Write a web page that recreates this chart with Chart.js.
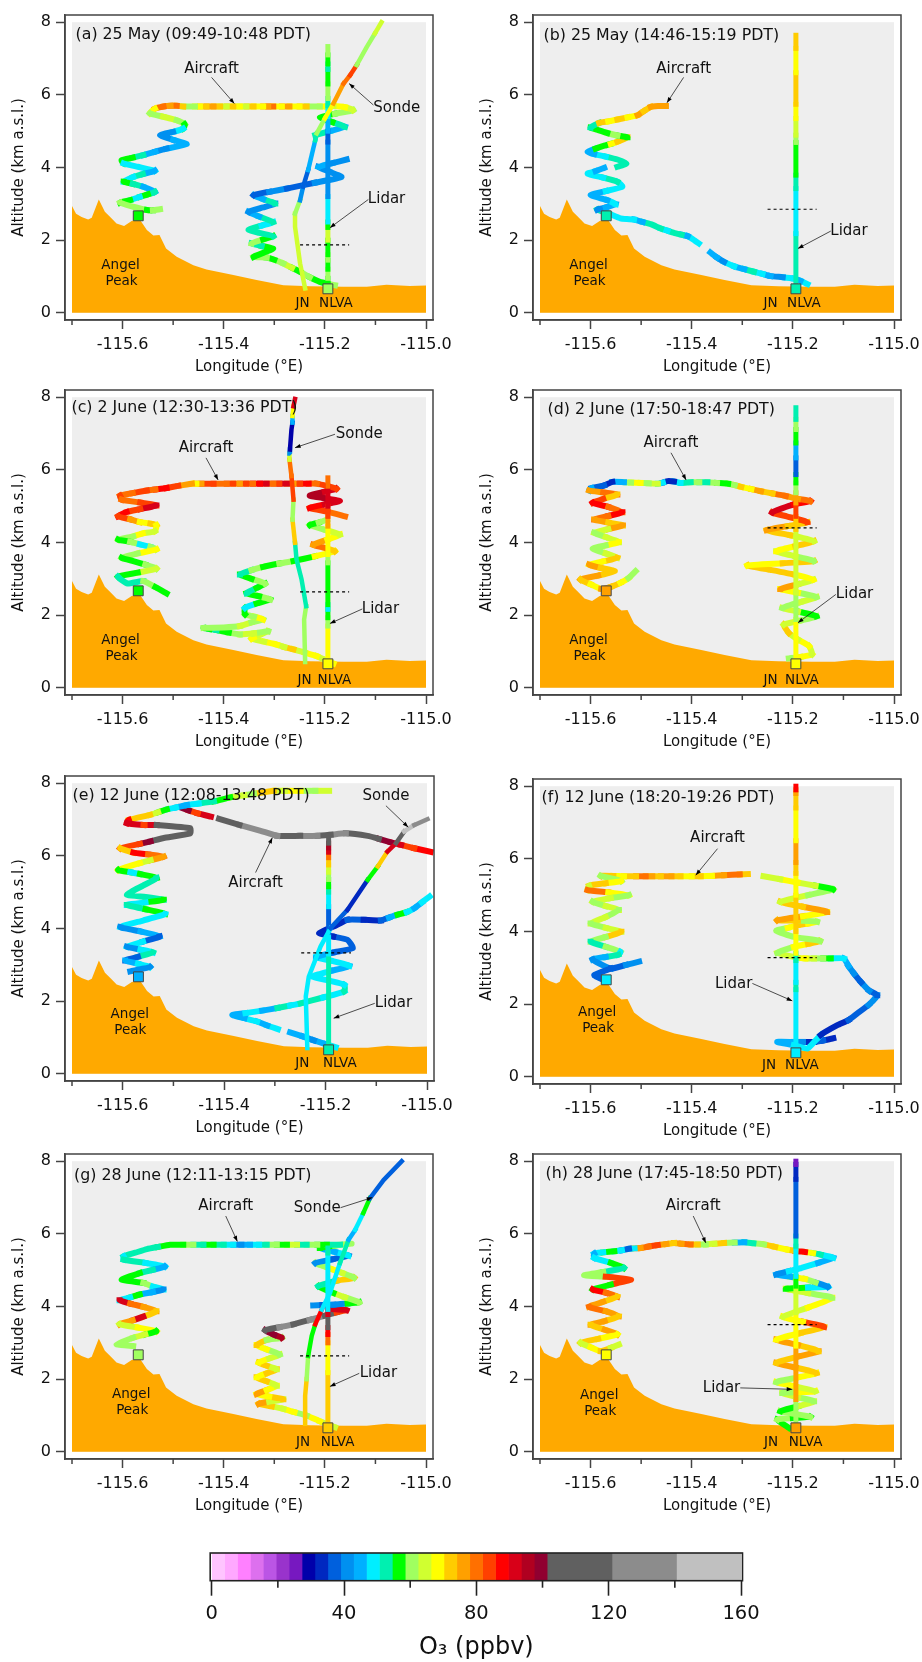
<!DOCTYPE html>
<html>
<head>
<meta charset="utf-8">
<title>O3 curtains</title>
<script src="https://cdn.jsdelivr.net/npm/chart.js@4/dist/chart.umd.min.js"></script>
<style>
  body { margin: 0; background: #fff; }
  #page { position: relative; width: 922px; height: 1662px; overflow: hidden; }
  canvas { position: absolute; }
</style>
</head>
<body>
<div id="page"></div>
<script>
// axis ticks
const lonTicks = [-115.7, -115.6, -115.5, -115.4, -115.3, -115.2, -115.1, -115.0];
const lonLabels = ['', '-115.6', '', '-115.4', '', '-115.2', '', '-115.0'];
const altTicks = [0, 2, 4, 6, 8];
const o3Ticks = [0, 20, 40, 60, 80, 100, 120, 140, 160];
const o3TickLabels = ['0', '', '40', '', '80', '', '120', '', '160'];

// colour bar
const o3Edges = [0, 3.9, 7.8, 11.7, 15.6, 19.5, 23.4, 27.3, 31.2, 35.1, 39, 42.9, 46.8, 50.7, 54.6, 58.5, 62.4, 66.3, 70.2, 74.1, 78, 81.9, 85.8, 89.7, 93.6, 97.5, 101.4, 121, 140.5, 160];
const o3Colors = ['#FFC4FF', '#FFA8FF', '#FF80FF', '#DD70EE', '#BB55E5', '#9933CC', '#7718C0', '#0000AA', '#0028C0', '#0060DD', '#0090F0', '#00B0FF', '#00EEFF', '#00F0B0', '#00FF00', '#A0FF60', '#D0FF30', '#FFFF00', '#FFCC00', '#FFA000', '#FF7000', '#FF4000', '#FF0000', '#D80018', '#B00020', '#900030', '#606060', '#8C8C8C', '#C0C0C0'];

// terrain along the transect
const terrainLon = [-115.7, -115.692, -115.681, -115.668, -115.661, -115.647, -115.635, -115.622, -115.612, -115.597, -115.582, -115.566, -115.552, -115.539, -115.527, -115.514, -115.493, -115.46, -115.434, -115.381, -115.335, -115.282, -115.229, -115.163, -115.117, -115.078, -115.032, -115.0];
const terrainAlt = [2.94, 2.73, 2.64, 2.57, 2.62, 3.12, 2.78, 2.6, 2.46, 2.39, 2.53, 2.57, 2.28, 2.13, 2.14, 1.77, 1.54, 1.31, 1.19, 1.04, 0.9, 0.76, 0.73, 0.72, 0.72, 0.77, 0.74, 0.75];

// Angel Peak and NLVA sites
const siteLon = [-115.569, -115.194];
const siteAlt = [2.67, 0.66];
const lidarLon = -115.194;

const gap = [null, null, null];

// (a) rows are lon, alt, O3
const titleA = ['(a) 25 May (09:49-10:48 PDT)', -115.693, 7.66];
const aircraftA = [[-115.18,0.76,62],[-115.195,0.8,56],[-115.21,0.85,56],[-115.23,0.98,62],[-115.249,1.13,58],[-115.265,1.24,65],[-115.282,1.36,62],[-115.3,1.46,58],[-115.315,1.52,60],[-115.341,1.54,56],[-115.32,1.66,58],[-115.302,1.77,56],[-115.325,1.84,54],[-115.345,1.91,60],[-115.322,2.02,58],[-115.302,2.11,54],[-115.33,2.2,52],[-115.351,2.29,54],[-115.325,2.4,50],[-115.302,2.5,54],[-115.33,2.65,44],[-115.351,2.78,40],[-115.322,2.9,42],[-115.298,3.01,52],[-115.322,3.13,44],[-115.341,3.24,38],[-115.31,3.33,40],[-115.275,3.42,38],[-115.22,3.58,42],[-115.167,3.74,42],[-115.19,3.88,40],[-115.213,4.02,44],[-115.185,4.12,40],[-115.157,4.22,44],gap,
  [-115.219,4.89,52],[-115.19,5,44],[-115.16,5.12,54],[-115.185,5.25,56],[-115.21,5.38,58],[-115.18,5.48,62],[-115.144,5.58,65],[-115.16,5.66,69],[-115.183,5.69,65],[-115.196,5.68,69],[-115.21,5.68,62],[-115.236,5.68,73],[-115.25,5.68,69],[-115.27,5.68,77],[-115.285,5.68,69],[-115.302,5.68,81],[-115.312,5.68,77],[-115.322,5.68,69],[-115.341,5.68,73],[-115.355,5.68,65],[-115.368,5.68,69],[-115.381,5.68,73],[-115.394,5.68,65],[-115.407,5.68,71],[-115.42,5.68,77],[-115.434,5.68,71],[-115.447,5.68,69],[-115.457,5.68,62],[-115.467,5.68,60],[-115.48,5.68,73],[-115.493,5.7,81],[-115.505,5.7,77],[-115.519,5.68,81],[-115.536,5.62,69],[-115.546,5.49,60],[-115.52,5.4,65],[-115.493,5.3,62],[-115.477,5.19,58],[-115.48,5.07,50],[-115.5,4.98,42],[-115.526,4.89,40],[-115.5,4.76,44],[-115.473,4.64,44],[-115.513,4.52,42],[-115.535,4.44,46],[-115.559,4.34,54],[-115.58,4.27,58],[-115.602,4.2,58],[-115.598,4.11,50],[-115.57,4.02,48],[-115.536,3.91,46],[-115.56,3.82,54],[-115.579,3.74,50],[-115.598,3.61,58],[-115.58,3.55,52],[-115.559,3.47,44],[-115.536,3.33,54],[-115.55,3.26,58],[-115.566,3.19,50],[-115.585,3.1,58],[-115.605,3.03,60],[-115.579,2.92,62],[-115.552,2.83,58],[-115.54,2.82,62],[-115.526,2.85,40]];
const lidarAltA = [0.66, 0.95, 1.2, 1.45, 1.6, 2.0, 2.35, 2.5, 3.2, 4.7, 5.0, 5.4, 5.7, 5.9, 6.3, 6.7, 6.85, 7.1, 7.33];
const lidarO3A = [58, 62, 58, 62, 58, 65, 58, 50, 42, 38, 44, 50, 54, 62, 58, 54, 58, 62, 62];
const sondeA = [[-115.239,0.67,65],[-115.249,1.36,65],[-115.259,2.37,65],[-115.259,2.73,60],[-115.249,3.1,40],[-115.243,3.47,38],[-115.233,3.93,44],[-115.219,4.75,54],[-115.216,4.94,62],[-115.2,5.35,69],[-115.183,5.76,77],[-115.163,6.31,81],[-115.15,6.54,85],[-115.137,6.82,62],[-115.117,7.32,60],[-115.101,7.69,65],[-115.088,8,60]];
const dashA = [-115.249, -115.152, 1.87];
const siteO3A = [58, 62];
const labelsA = [['Aircraft',-115.424,6.72],['Sonde',-115.058,5.64],['Lidar',-115.078,3.12],['Angel',-115.604,1.31],['Peak',-115.602,0.87],['JN',-115.244,0.25],['NLVA',-115.178,0.25]];
const arrowsA = [[-115.424,6.48,-115.379,5.76],[-115.104,5.72,-115.152,6.31],[-115.114,3.12,-115.19,2.34]];

// (b)
const titleB = ['(b) 25 May (14:46-15:19 PDT)', -115.693, 7.62];
const aircraftB = [[-115.171,0.79,50],[-115.185,0.88,46],[-115.198,0.94,48],[-115.22,0.98,40],[-115.244,1.01,44],[-115.26,1.07,50],[-115.277,1.13,54],[-115.296,1.2,46],[-115.316,1.28,48],[-115.336,1.4,40],[-115.35,1.52,44],[-115.363,1.66,38],gap,
  [-115.386,1.91,48],[-115.397,2.02,48],[-115.408,2.11,46],[-115.42,2.15,54],[-115.435,2.2,54],[-115.448,2.26,48],[-115.461,2.32,52],[-115.481,2.44,54],[-115.497,2.5,46],[-115.514,2.57,48],[-115.528,2.58,50],[-115.541,2.6,48],[-115.564,2.73,54],[-115.587,2.84,42],[-115.57,2.9,46],[-115.55,2.99,48],[-115.567,3.1,44],[-115.6,3.24,44],[-115.57,3.35,48],[-115.537,3.47,48],[-115.547,3.61,54],[-115.575,3.72,50],[-115.606,3.83,50],[-115.59,3.9,44],[-115.573,3.99,48],gap,
  [-115.547,4.02,52],[-115.529,4.11,54],[-115.547,4.22,54],[-115.57,4.3,50],[-115.593,4.37,44],[-115.606,4.43,44],[-115.59,4.52,56],[-115.573,4.6,58],[-115.56,4.65,69],[-115.547,4.71,73],[-115.527,4.83,58],[-115.547,4.88,62],[-115.567,4.95,58],[-115.585,5.03,58],[-115.6,5.1,54],[-115.583,5.23,73],[-115.565,5.27,69],[-115.547,5.32,73],[-115.527,5.38,69],[-115.507,5.44,77],[-115.495,5.55,73],[-115.481,5.67,77],[-115.467,5.69,77],[-115.451,5.69,81]];
const lidarAltB = [0.7, 2.18, 3.42, 3.79, 4.69, 4.89, 5.35, 5.74, 6.61, 7.28, 7.64];
const lidarO3B = [52, 48, 52, 58, 62, 65, 69, 73, 69, 73, 73];
const dashB = [-115.25, -115.153, 2.85];
const siteO3B = [52, 52];
const labelsB = [['Aircraft',-115.416,6.72],['Lidar',-115.089,2.25],['Angel',-115.604,1.31],['Peak',-115.602,0.87],['JN',-115.244,0.25],['NLVA',-115.178,0.25]];
const arrowsB = [[-115.416,6.48,-115.449,5.78],[-115.125,2.25,-115.19,1.77]];

// (c)
const titleC = ['(c) 2 June (12:30-13:36 PDT)', -115.701, 7.71];
const aircraftC = [[-115.183,0.67,69],[-115.2,0.77,65],[-115.216,0.87,69],[-115.24,0.97,65],[-115.262,1.06,73],[-115.28,1.12,65],[-115.295,1.19,69],[-115.32,1.27,65],[-115.345,1.35,69],[-115.33,1.45,65],[-115.312,1.56,62],[-115.34,1.5,65],[-115.368,1.47,62],[-115.39,1.52,58],[-115.414,1.59,54],[-115.428,1.62,58],[-115.44,1.65,62],[-115.4,1.66,60],[-115.368,1.7,65],[-115.345,1.8,60],[-115.322,1.88,69],[-115.34,1.96,60],[-115.358,2.02,56],[-115.358,2.2,50],[-115.335,2.32,56],[-115.308,2.43,62],[-115.33,2.52,56],[-115.355,2.6,54],[-115.335,2.75,56],[-115.318,2.87,62],[-115.345,3,58],[-115.368,3.12,54],[-115.345,3.24,62],[-115.322,3.33,58],[-115.29,3.42,62],[-115.262,3.49,58],[-115.22,3.62,69],[-115.18,3.76,73],[-115.2,3.85,79],[-115.223,3.94,77],[-115.195,4.08,69],[-115.17,4.22,65],[-115.2,4.35,60],[-115.23,4.48,58],[-115.212,4.55,62],[-115.196,4.63,58],gap,
  [-115.16,4.72,81],[-115.195,4.85,85],[-115.23,4.95,87],[-115.2,5.05,90],[-115.17,5.14,92],[-115.2,5.22,96],[-115.23,5.29,94],[-115.2,5.4,90],[-115.177,5.48,85],[-115.216,5.62,81],[-115.232,5.62,87],[-115.249,5.62,85],[-115.262,5.62,77],[-115.275,5.62,90],[-115.29,5.62,85],[-115.302,5.62,81],[-115.315,5.62,92],[-115.328,5.62,87],[-115.342,5.62,81],[-115.355,5.62,85],[-115.368,5.62,77],[-115.381,5.62,85],[-115.394,5.62,81],[-115.407,5.62,79],[-115.42,5.62,85],[-115.434,5.62,85],[-115.444,5.62,77],[-115.454,5.62,69],[-115.463,5.62,77],[-115.49,5.56,85],[-115.513,5.5,87],[-115.535,5.46,81],[-115.552,5.43,85],[-115.58,5.36,81],[-115.605,5.29,85],[-115.602,5.18,81],[-115.565,5.1,85],[-115.533,5.02,92],[-115.565,4.92,85],[-115.592,4.84,87],[-115.609,4.72,85],[-115.585,4.64,77],[-115.566,4.56,69],[-115.545,4.52,73],[-115.533,4.48,69],[-115.536,4.31,65],[-115.56,4.25,69],[-115.579,4.17,62],[-115.609,4.08,58],[-115.585,4.02,62],[-115.566,3.95,48],[-115.545,3.88,62],[-115.533,3.81,69],[-115.57,3.7,62],[-115.602,3.58,58],[-115.579,3.49,56],[-115.555,3.39,62],[-115.533,3.28,65],[-115.57,3.17,58],[-115.609,3.06,52],[-115.59,2.87,54],[-115.559,2.94,62],[-115.535,2.77,56],[-115.513,2.6,58]];
const lidarAltC = [0.73, 1.7, 1.93, 2.16, 2.29, 3.44, 3.67, 4.45, 4.72, 5.0, 5.55, 5.78];
const lidarO3C = [69, 62, 58, 48, 58, 62, 69, 77, 85, 92, 81, 81];
const sondeC = [[-115.239,0.71,62],[-115.241,1.88,62],[-115.237,2.25,54],[-115.246,2.98,52],[-115.256,3.53,54],[-115.259,3.99,73],[-115.264,4.63,62],[-115.262,5.18,85],[-115.266,5.83,81],[-115.27,6.28,65],[-115.27,6.45,42],[-115.269,6.56,31],[-115.266,7.11,29],[-115.264,7.3,44],[-115.264,7.48,69],[-115.262,7.75,90],[-115.259,7.95,52]];
const dashC = [-115.249, -115.152, 2.64];
const siteO3C = [58, 69];
const labelsC = [['Aircraft',-115.435,6.59],['Sonde',-115.132,6.98],['Lidar',-115.09,2.17],['Angel',-115.604,1.31],['Peak',-115.602,0.87],['JN',-115.24,0.21],['NLVA',-115.181,0.21]];
const arrowsC = [[-115.435,6.33,-115.411,5.72],[-115.18,6.98,-115.259,6.61],[-115.126,2.17,-115.19,1.77]];

// (d)
const titleD = ['(d) 2 June (17:50-18:47 PDT)', -115.685, 7.66];
const aircraftD = [[-115.208,0.81,62],[-115.185,0.85,69],[-115.162,0.92,65],[-115.168,1.15,69],[-115.19,1.33,65],[-115.208,1.51,73],[-115.218,1.74,65],[-115.185,1.85,62],[-115.153,1.97,58],[-115.19,2.1,65],[-115.221,2.2,62],[-115.185,2.36,65],[-115.153,2.5,62],[-115.19,2.62,69],[-115.225,2.72,77],[-115.19,2.85,65],[-115.159,2.98,69],[-115.198,3.12,71],[-115.245,3.25,73],[-115.29,3.37,69],[-115.22,3.43,73],[-115.158,3.49,60],[-115.195,3.62,65],[-115.233,3.76,69],[-115.195,3.9,73],[-115.158,4.04,65],[-115.205,4.2,73],[-115.252,4.34,77],[-115.21,4.45,73],[-115.171,4.56,85],[-115.212,4.72,85],[-115.241,4.83,90],[-115.198,5.05,88],[-115.165,5.14,81],[-115.19,5.2,77],[-115.214,5.28,81],[-115.24,5.35,73],[-115.263,5.41,77],[-115.282,5.47,69],[-115.302,5.53,73],[-115.315,5.58,62],[-115.328,5.62,58],[-115.35,5.64,62],[-115.369,5.66,54],[-115.385,5.66,62],[-115.402,5.66,54],[-115.422,5.64,48],[-115.435,5.68,35],[-115.448,5.69,33],[-115.457,5.65,48],[-115.467,5.62,65],[-115.485,5.63,62],[-115.501,5.64,69],[-115.52,5.65,62],[-115.534,5.66,44],[-115.557,5.67,33],[-115.573,5.57,38],[-115.598,5.5,44],[-115.603,5.43,77],[-115.575,5.38,81],[-115.547,5.32,73],[-115.575,5.2,85],[-115.596,5.09,87],[-115.565,4.98,81],[-115.537,4.83,89],[-115.565,4.73,81],[-115.593,4.63,77],[-115.565,4.55,73],[-115.536,4.47,77],[-115.565,4.37,65],[-115.593,4.27,62],[-115.57,4.15,65],[-115.544,4.01,69],[-115.57,3.92,62],[-115.596,3.83,60],[-115.57,3.7,65],[-115.547,3.58,73],[-115.575,3.48,69],[-115.603,3.39,77],[-115.58,3.3,73],[-115.552,3.21,73],[-115.585,3.09,77],[-115.62,2.98,73],[-115.6,2.85,69],[-115.579,2.72,77],[-115.56,2.78,73],[-115.541,2.89,69],[-115.525,3.02,62],[-115.511,3.21,73]];
const lidarAltD = [0.73, 1.88, 2.61, 4.36, 4.72, 5.09, 5.37, 5.64, 5.87, 6.33, 6.74, 7.11, 7.39, 7.71];
const lidarO3D = [69, 62, 65, 73, 85, 77, 62, 58, 38, 44, 58, 62, 54, 54];
const dashD = [-115.25, -115.153, 4.4];
const siteO3D = [77, 69];
const labelsD = [['Aircraft',-115.441,6.74],['Lidar',-115.078,2.57],['Angel',-115.604,1.31],['Peak',-115.602,0.87],['JN',-115.244,0.21],['NLVA',-115.182,0.21]];
const arrowsD = [[-115.441,6.47,-115.411,5.72],[-115.115,2.57,-115.19,1.79]];

// (e)
const titleE = ['(e) 12 June (12:08-13:48 PDT)', -115.699, 7.65];
const aircraftE = [[-115.18,0.73,50],[-115.2,0.82,44],[-115.223,0.92,42],[-115.245,1.03,46],[-115.27,1.14,44],gap,
  [-115.294,1.23,48],[-115.315,1.33,44],[-115.335,1.44,50],[-115.36,1.53,46],[-115.384,1.62,44],[-115.358,1.67,48],[-115.325,1.74,44],[-115.295,1.81,52],[-115.27,1.88,50],[-115.249,1.94,54],[-115.205,2.1,48],[-115.163,2.27,54],[-115.163,2.45,50],[-115.195,2.57,48],[-115.226,2.68,50],[-115.19,2.83,44],[-115.153,2.97,48],[-115.185,3.1,50],[-115.219,3.21,44],[-115.185,3.34,38],[-115.146,3.46,38],[-115.157,3.69,37],[-115.185,3.78,33],[-115.213,3.87,33],[-115.183,4.06,35],[-115.157,4.24,38],[-115.125,4.24,35],[-115.091,4.22,38],[-115.075,4.3,44],[-115.058,4.38,56],[-115.04,4.45,48],[-115.025,4.56,44],[-115.01,4.72,50],[-114.995,4.88,56],gap,
  [-114.993,6.11,87],[-115.025,6.21,85],[-115.051,6.3,90],[-115.071,6.37,98],[-115.095,6.47,110],[-115.117,6.55,110],[-115.16,6.62,130],[-115.19,6.58,110],[-115.216,6.55,125],[-115.25,6.55,110],[-115.295,6.55,125],[-115.328,6.69,125],[-115.37,6.85,110],[-115.41,7.02,125],gap,
  [-115.426,7.08,92],[-115.452,7.17,85],[-115.47,7.25,98],[-115.486,7.33,90],gap,
  [-115.193,7.79,65],[-115.22,7.79,62],[-115.249,7.79,69],[-115.28,7.79,65],[-115.302,7.79,73],[-115.341,7.71,60],[-115.36,7.67,65],[-115.388,7.61,58],[-115.42,7.5,54],[-115.45,7.44,50],[-115.473,7.4,44],[-115.495,7.33,48],[-115.513,7.28,58],[-115.53,7.2,65],[-115.546,7.13,73],[-115.588,6.99,87],[-115.592,6.9,90],[-115.559,6.85,85],[-115.545,6.85,92],[-115.533,6.85,110],[-115.467,6.76,110],[-115.467,6.62,105],[-115.519,6.49,110],[-115.545,6.4,98],[-115.566,6.33,85],[-115.605,6.21,73],[-115.579,6.09,87],[-115.55,6.04,81],[-115.519,5.98,77],[-115.545,5.88,65],[-115.566,5.8,69],[-115.609,5.61,58],[-115.585,5.55,48],[-115.566,5.5,58],[-115.533,5.39,54],[-115.56,5.18,52],[-115.592,4.93,54],[-115.555,4.87,52],[-115.519,4.79,56],[-115.555,4.72,50],[-115.592,4.65,52],[-115.555,4.53,58],[-115.516,4.4,50],[-115.56,4.22,48],[-115.605,4.04,40],[-115.565,3.92,44],[-115.527,3.78,38],[-115.56,3.64,48],[-115.592,3.5,40],[-115.565,3.42,48],[-115.54,3.34,52],[-115.57,3.22,38],[-115.595,3.12,44],[-115.57,3.03,48],[-115.546,2.94,42],[-115.585,2.82,31]];
const lidarAltE = [0.66, 3.3, 3.9, 4.6, 5.0, 5.15, 5.35, 5.55, 5.75, 5.95, 6.1, 6.22, 6.35, 6.45];
const lidarO3E = [52, 50, 38, 48, 52, 58, 62, 65, 73, 81, 90, 96, 110, 110];
const sondeE = [[-115.236,0.71,48],[-115.239,2.13,48],[-115.233,2.68,48],[-115.21,3.5,50],[-115.19,4.01,38],[-115.157,4.51,33],[-115.117,5.34,58],[-115.097,5.71,71],[-115.078,6.12,90],[-115.061,6.35,110],[-115.045,6.67,150],[-115.025,6.85,125],[-114.999,7.01,110]];
const dashE = [-115.248, -115.15, 3.33];
const siteO3E = [44, 52];
const labelsE = [['Sonde',-115.081,7.65],['Aircraft',-115.338,5.25],['Lidar',-115.066,1.94],['Angel',-115.586,1.63],['Peak',-115.585,1.19],['JN',-115.246,0.29],['NLVA',-115.172,0.29]];
const arrowsE = [[-115.081,7.38,-115.037,6.79],[-115.338,5.54,-115.305,6.5],[-115.103,1.94,-115.184,1.53]];

// (f)
const titleF = ['(f) 12 June (18:20-19:26 PDT)', -115.697, 7.69];
const aircraftF = [[-115.12,1.06,35],[-115.14,1,38],[-115.158,0.96,33],[-115.18,0.96,40],[-115.198,0.96,44],[-115.231,0.96,44],[-115.198,0.87,48],[-115.171,0.78,50],[-115.145,1.15,33],[-115.112,1.42,33],[-115.09,1.56,38],[-115.073,1.74,37],[-115.05,1.98,40],[-115.033,2.25,37],[-115.049,2.37,42],[-115.065,2.6,38],[-115.079,2.84,40],[-115.09,3.05,44],[-115.099,3.26,48],[-115.125,3.26,58],[-115.14,3.26,62],[-115.158,3.26,65],[-115.175,3.26,69],[-115.191,3.28,65],[-115.231,3.41,62],[-115.198,3.58,69],[-115.17,3.66,73],[-115.146,3.74,62],[-115.198,3.85,60],[-115.233,4.02,62],[-115.21,4.1,69],[-115.191,4.17,73],[-115.17,4.22,69],[-115.152,4.27,62],[-115.19,4.3,73],[-115.231,4.31,77],[-115.18,4.42,69],[-115.132,4.54,77],[-115.18,4.68,73],[-115.225,4.82,65],[-115.17,5,62],[-115.12,5.16,58],[-115.155,5.26,65],[-115.191,5.35,69],[-115.225,5.44,65],[-115.258,5.52,73],gap,
  [-115.289,5.58,73],[-115.305,5.57,81],[-115.336,5.55,77],[-115.36,5.53,69],[-115.382,5.52,73],[-115.4,5.52,69],[-115.422,5.52,73],[-115.44,5.52,77],[-115.461,5.52,71],[-115.478,5.52,77],[-115.491,5.52,81],[-115.51,5.52,71],[-115.534,5.52,69],[-115.555,5.53,73],[-115.58,5.53,62],[-115.539,5.39,69],[-115.57,5.33,73],[-115.603,5.26,65],[-115.606,5.14,81],[-115.565,5.08,69],[-115.524,5,62],[-115.56,4.92,65],[-115.596,4.82,60],[-115.57,4.7,65],[-115.544,4.59,60],[-115.57,4.4,65],[-115.6,4.22,62],[-115.57,4.1,65],[-115.539,3.99,73],[-115.57,3.85,62],[-115.6,3.72,54],[-115.57,3.58,60],[-115.541,3.44,48],[-115.545,3.36,54],[-115.57,3.3,44],[-115.596,3.23,40],[-115.56,2.98,37],[-115.53,3.08,40],[-115.504,3.17,44],gap,
  [-115.56,2.98,37],[-115.593,2.8,37],[-115.577,2.68,37]];
const lidarAltF = [0.78, 2.4, 2.6, 3.2, 3.4, 4.0, 5.0, 5.6, 5.9, 6.5, 7.2, 7.4, 7.8, 7.9, 8];
const lidarO3F = [48, 52, 48, 54, 69, 73, 69, 73, 77, 69, 69, 73, 77, 87, 87];
const dashF = [-115.25, -115.153, 3.28];
const siteO3F = [48, 48];
const labelsF = [['Aircraft',-115.349,6.56],['Lidar',-115.317,2.55],['Angel',-115.587,1.78],['Peak',-115.585,1.34],['JN',-115.247,0.3],['NLVA',-115.182,0.3]];
const arrowsF = [[-115.349,6.28,-115.392,5.55],[-115.28,2.57,-115.201,2.09]];

// (g)
const titleG = ['(g) 28 June (12:11-13:15 PDT)', -115.696, 7.59];
const aircraftG = [[-115.18,0.68,65],[-115.21,0.84,69],[-115.236,1,62],[-115.26,1.09,69],[-115.282,1.18,65],[-115.305,1.25,73],[-115.331,1.32,77],[-115.31,1.38,65],[-115.282,1.45,73],[-115.31,1.52,69],[-115.335,1.59,77],[-115.315,1.7,69],[-115.295,1.82,65],[-115.315,1.94,73],[-115.335,2.05,69],[-115.315,2.16,73],[-115.295,2.27,65],[-115.315,2.37,73],[-115.331,2.46,69],[-115.31,2.57,65],[-115.289,2.68,62],[-115.315,2.82,69],[-115.335,2.94,73],[-115.315,3.08,62],[-115.285,3.14,94],[-115.3,3.22,100],[-115.318,3.35,110],[-115.29,3.43,130],[-115.262,3.51,115],[-115.23,3.63,130],[-115.2,3.75,110],[-115.177,3.84,85],[-115.157,3.9,90],[-115.193,3.94,85],gap,
  [-115.223,4.03,42],[-115.205,4.04,38],[-115.183,4.05,42],[-115.155,4.08,58],[-115.132,4.12,60],[-115.16,4.25,65],[-115.183,4.37,58],[-115.2,4.47,58],[-115.213,4.56,54],[-115.177,4.71,73],[-115.142,4.79,60],[-115.165,4.92,65],[-115.183,5.01,69],[-115.2,5.1,60],[-115.219,5.2,42],[-115.185,5.3,38],[-115.153,5.4,50],[-115.18,5.5,44],[-115.21,5.61,58],[-115.18,5.68,62],[-115.147,5.73,62],[-115.17,5.7,54],[-115.196,5.7,58],[-115.215,5.7,62],[-115.236,5.7,54],[-115.255,5.7,65],[-115.275,5.7,58],[-115.295,5.7,62],[-115.315,5.7,54],[-115.33,5.7,48],[-115.348,5.7,44],[-115.365,5.7,42],[-115.381,5.7,50],[-115.4,5.7,54],[-115.42,5.7,58],[-115.44,5.7,54],[-115.46,5.7,62],[-115.48,5.7,56],[-115.506,5.7,58],[-115.53,5.64,54],[-115.552,5.58,52],[-115.575,5.48,54],[-115.598,5.38,48],[-115.598,5.29,54],[-115.555,5.2,50],[-115.516,5.1,46],[-115.54,5.01,54],[-115.566,4.92,58],[-115.602,4.74,56],[-115.559,4.65,62],[-115.54,4.55,50],[-115.519,4.47,42],[-115.54,4.4,46],[-115.566,4.33,58],[-115.585,4.25,48],[-115.606,4.17,90],[-115.585,4.08,81],[-115.559,3.99,77],[-115.533,3.87,73],[-115.559,3.72,92],[-115.58,3.62,77],[-115.606,3.51,65],[-115.57,3.42,69],[-115.533,3.32,58],[-115.555,3.23,65],[-115.579,3.14,60],[-115.612,2.96,62],[-115.579,2.91,65]];
const lidarAltG = [0.72, 2.18, 3.0, 3.23, 3.42, 3.78, 3.92, 5.47, 5.61];
const lidarO3G = [73, 69, 81, 87, 110, 90, 48, 54, 54];
const sondeG = [[-115.239,0.77,73],[-115.239,1.54,73],[-115.236,2,62],[-115.233,2.64,58],[-115.226,3.19,58],[-115.219,3.51,87],[-115.206,3.92,48],[-115.19,4.37,48],[-115.17,5.2,54],[-115.153,5.84,44],[-115.14,6.11,48],[-115.124,6.57,58],[-115.111,6.98,38],[-115.084,7.48,38],[-115.048,8,37]];
const dashG = [-115.249, -115.152, 2.64];
const siteO3G = [62, 73];
const labelsG = [['Aircraft',-115.396,6.75],['Sonde',-115.215,6.71],['Lidar',-115.094,2.16],['Angel',-115.583,1.57],['Peak',-115.581,1.13],['JN',-115.243,0.25],['NLVA',-115.175,0.25]];
const arrowsG = [[-115.396,6.49,-115.373,5.79],[-115.169,6.72,-115.106,7],[-115.132,2.16,-115.19,1.8]];

// (h)
const titleH = ['(h) 28 June (17:45-18:50 PDT)', -115.689, 7.66];
const aircraftH = [[-115.208,0.66,58],[-115.231,0.89,62],[-115.2,0.93,58],[-115.165,0.96,60],[-115.195,1.04,62],[-115.225,1.12,58],[-115.19,1.25,65],[-115.158,1.39,62],[-115.19,1.5,65],[-115.221,1.62,62],[-115.19,1.64,69],[-115.155,1.67,65],[-115.195,1.8,69],[-115.233,1.92,62],[-115.19,2.05,69],[-115.153,2.17,73],[-115.195,2.32,77],[-115.233,2.45,73],[-115.19,2.62,77],[-115.149,2.77,73],[-115.19,2.94,77],[-115.233,3.09,69],[-115.185,3.27,73],[-115.138,3.44,85],[-115.18,3.58,69],[-115.22,3.72,65],[-115.17,3.97,69],[-115.122,4.24,62],[-115.17,4.37,65],[-115.214,4.49,58],[-115.17,4.52,50],[-115.13,4.54,40],[-115.155,4.66,62],[-115.176,4.76,69],[-115.205,4.82,44],[-115.233,4.88,42],[-115.208,4.97,50],[-115.183,5.06,48],[-115.15,5.2,44],[-115.12,5.34,50],[-115.145,5.43,54],[-115.16,5.47,69],[-115.176,5.5,87],[-115.195,5.53,73],[-115.212,5.57,69],[-115.235,5.64,73],[-115.257,5.71,62],[-115.278,5.74,54],[-115.296,5.77,46],[-115.315,5.76,62],[-115.336,5.75,73],[-115.355,5.73,65],[-115.372,5.71,62],[-115.388,5.71,73],[-115.402,5.71,81],[-115.42,5.73,77],[-115.435,5.75,73],[-115.45,5.72,77],[-115.467,5.69,85],[-115.485,5.65,81],[-115.501,5.61,77],[-115.513,5.6,50],[-115.524,5.59,38],[-115.538,5.55,48],[-115.553,5.52,58],[-115.575,5.49,48],[-115.593,5.46,44],[-115.593,5.34,50],[-115.56,5.2,58],[-115.534,5.06,54],[-115.575,4.95,60],[-115.613,4.86,62],[-115.57,4.82,85],[-115.52,4.74,85],[-115.56,4.6,56],[-115.596,4.47,87],[-115.57,4.38,81],[-115.547,4.27,73],[-115.575,4.13,77],[-115.603,3.99,81],[-115.57,3.87,77],[-115.544,3.73,73],[-115.572,3.6,77],[-115.6,3.5,73],[-115.572,3.36,77],[-115.547,3.23,69],[-115.585,3.11,73],[-115.62,3,65],[-115.6,2.88,69],[-115.58,2.77,73],[-115.56,2.86,65],[-115.544,2.95,62]];
const lidarAltH = [0.71, 1.44, 2.91, 3.83, 4.56, 4.83, 5.66, 5.94, 7.5, 7.91, 8];
const lidarO3H = [62, 77, 69, 65, 58, 48, 54, 38, 33, 24, 24];
const dashH = [-115.25, -115.153, 3.5];
const siteO3H = [69, 77];
const labelsH = [['Aircraft',-115.397,6.75],['Lidar',-115.341,1.76],['Angel',-115.583,1.56],['Peak',-115.581,1.12],['JN',-115.243,0.25],['NLVA',-115.175,0.25]];
const arrowsH = [[-115.397,6.49,-115.372,5.75],[-115.304,1.76,-115.201,1.72]];

// canvas left, frame left, frame top, frame width, frame height for each panel
const frames = [
  [0, 65, 15, 368, 305], [461, 72, 15, 368, 305],
  [0, 65, 390, 368, 305], [461, 72, 390, 368, 305],
  [0, 65, 776, 369, 305], [461, 72, 779, 368, 305],
  [0, 65, 1154, 368, 305.6], [461, 72, 1154, 368, 305.6]
];

const fontName = '"DejaVu Sans", sans-serif';
const inkColor = '#444';
const smallText = { Angel: 13.5, Peak: 13.5, JN: 13.5, NLVA: 13.5 };
const canvasWidth = 520;

function colorFor(v) {
  for (let i = 0; i < o3Colors.length; i++) {
    if (v < o3Edges[i + 1]) return o3Colors[i];
  }
  return o3Colors[o3Colors.length - 1];
}

function pathDataset(rows, width, order, tension) {
  return {
    type: 'line',
    data: rows.map(r => ({ x: r[0], y: r[1] })),
    borderColor: '#000',
    borderWidth: width,
    borderCapStyle: 'square',
    borderJoinStyle: 'bevel',
    pointRadius: 0,
    tension: tension,
    fill: false,
    spanGaps: false,
    order: order,
    segment: { borderColor: ctx => colorFor(rows[ctx.p0DataIndex][2]) }
  };
}

function drawArrow(ctx, x0, y0, x1, y1) {
  const a = Math.atan2(y1 - y0, x1 - x0);
  ctx.strokeStyle = '#222';
  ctx.fillStyle = '#000';
  ctx.lineWidth = 0.8;
  ctx.beginPath();
  ctx.moveTo(x0, y0);
  ctx.lineTo(x1, y1);
  ctx.stroke();
  ctx.beginPath();
  ctx.moveTo(x1, y1);
  ctx.lineTo(x1 - 6 * Math.cos(a - 0.35), y1 - 6 * Math.sin(a - 0.35));
  ctx.lineTo(x1 - 6 * Math.cos(a + 0.35), y1 - 6 * Math.sin(a + 0.35));
  ctx.closePath();
  ctx.fill();
}

function panelPlugin(title, labels, arrows) {
  return {
    id: 'panelDecor',
    beforeDraw(chart) {
      // grey plot area stops short of the frame
      const c = chart.ctx, x = chart.scales.x, y = chart.scales.y;
      const left = x.getPixelForValue(lonTicks[0]), right = x.getPixelForValue(lonTicks[7]);
      const top = y.getPixelForValue(altTicks[4]), bottom = y.getPixelForValue(altTicks[0]);
      c.fillStyle = '#EEEEEE';
      c.fillRect(left, top, right - left, bottom - top);
    },
    afterDraw(chart) {
      const c = chart.ctx, x = chart.scales.x, y = chart.scales.y, a = chart.chartArea;
      c.save();
      c.strokeStyle = inkColor;
      c.lineWidth = 1.5;
      c.strokeRect(a.left, a.top, a.right - a.left, a.bottom - a.top);
      // short minor ticks
      lonTicks.forEach((v, i) => {
        if (lonLabels[i] !== '') return;
        const px = x.getPixelForValue(v);
        c.beginPath();
        c.moveTo(px, a.bottom);
        c.lineTo(px, a.bottom + 5);
        c.stroke();
      });
      arrows.forEach(r => drawArrow(c, x.getPixelForValue(r[0]), y.getPixelForValue(r[1]), x.getPixelForValue(r[2]), y.getPixelForValue(r[3])));
      c.fillStyle = '#111';
      c.textBaseline = 'middle';
      c.textAlign = 'center';
      labels.forEach(r => {
        c.font = (smallText[r[0]] || 15) + 'px ' + fontName;
        c.fillText(r[0], x.getPixelForValue(r[1]), y.getPixelForValue(r[2]));
      });
      c.textAlign = 'left';
      c.font = '15.8px ' + fontName;
      c.fillText(title[0], x.getPixelForValue(title[1]), y.getPixelForValue(title[2]));
      c.restore();
    }
  };
}

function makePanel(frame, title, aircraft, lidarAlt, lidarO3, sonde, dash, siteO3, labels, arrows) {
  const [canvasLeft, frameLeft, frameTop, frameW, frameH] = frame;
  const canvas = document.createElement('canvas');
  const canvasTop = frameTop - 15;
  const bottomH = 56;
  canvas.width = canvasWidth;
  canvas.height = 15 + frameH + bottomH;
  canvas.style.left = canvasLeft + 'px';
  canvas.style.top = canvasTop + 'px';
  document.getElementById('page').appendChild(canvas);

  // 7 px between the frame and the ends of the axes
  const lonPad = 7 * 0.7 / (frameW - 14);
  const altPad = 7.2 * 8 / (frameH - 14.4);

  const lidarRows = lidarAlt.map((h, i) => [lidarLon, h, lidarO3[i]]);
  const datasets = [
    { type: 'line', data: terrainLon.map((v, i) => ({ x: v, y: terrainAlt[i] })), borderWidth: 0, backgroundColor: '#FFA900', fill: { value: 0 }, pointRadius: 0, tension: 0, order: 10 },
    pathDataset(aircraft, 6, 6, 0.15),
    pathDataset(lidarRows, 5, 5, 0),
    { type: 'line', data: [{ x: dash[0], y: dash[2] }, { x: dash[1], y: dash[2] }], borderColor: '#000', borderWidth: 1.2, borderDash: [3, 3], pointRadius: 0, order: 2 },
    { type: 'scatter', data: siteLon.map((v, i) => ({ x: v, y: siteAlt[i] })), pointStyle: 'rect', pointRadius: 7, backgroundColor: siteO3.map(colorFor), borderColor: inkColor, borderWidth: 1, order: 1 }
  ];
  if (sonde) datasets.push(pathDataset(sonde, 4.5, 4, 0));

  new Chart(canvas, {
    data: { datasets: datasets },
    plugins: [panelPlugin(title, labels, arrows)],
    options: {
      responsive: false,
      animation: false,
      events: [],
      layout: { padding: { left: 0, top: 15, right: canvasWidth - frameLeft - frameW, bottom: 0 } },
      plugins: { legend: { display: false }, tooltip: { enabled: false } },
      scales: {
        x: {
          type: 'linear',
          position: 'bottom',
          min: lonTicks[0] - lonPad,
          max: lonTicks[7] + lonPad,
          afterBuildTicks: s => { s.ticks = lonTicks.map(v => ({ value: v })); },
          afterFit: s => { s.height = bottomH; },
          border: { color: inkColor, width: 1.5 },
          grid: { drawOnChartArea: false, tickLength: 9, tickWidth: 1.5, tickColor: c => (lonLabels[c.index] === '' ? 'transparent' : inkColor) },
          ticks: { autoSkip: false, maxRotation: 0, minRotation: 0, padding: 6, color: '#111', font: { family: fontName, size: 16 }, callback: (v, i) => lonLabels[i] },
          title: { display: true, text: 'Longitude (°E)', color: '#111', padding: 0, font: { family: fontName, size: 15 } }
        },
        y: {
          type: 'linear',
          position: 'left',
          min: altTicks[0] - altPad,
          max: altTicks[4] + altPad,
          afterBuildTicks: s => { s.ticks = altTicks.map(v => ({ value: v })); },
          afterFit: s => { s.width = frameLeft; },
          border: { color: inkColor, width: 1.5 },
          grid: { drawOnChartArea: false, tickLength: 9, tickWidth: 1.5, tickColor: inkColor },
          ticks: { autoSkip: false, padding: 5, color: '#111', font: { family: fontName, size: 16 } },
          title: { display: true, text: 'Altitude (km a.s.l.)', color: '#111', padding: { top: frameLeft - 55, bottom: 0 }, font: { family: fontName, size: 15 } }
        }
      }
    }
  });
}

function makeColorBar() {
  const canvas = document.createElement('canvas');
  canvas.width = 922;
  canvas.height = 122;
  canvas.style.left = '0px';
  canvas.style.top = '1540px';
  document.getElementById('page').appendChild(canvas);

  const frameBar = {
    id: 'frameBar',
    afterDraw(chart) {
      const c = chart.ctx, a = chart.chartArea, x = chart.scales.x;
      c.save();
      c.strokeStyle = '#222';
      c.lineWidth = 1.6;
      c.strokeRect(a.left - 1.5, a.top, a.right - a.left + 3, a.bottom - a.top);
      o3Ticks.forEach((v, i) => {
        if (o3TickLabels[i] !== '') return;
        const px = x.getPixelForValue(v);
        c.beginPath();
        c.moveTo(px, a.bottom);
        c.lineTo(px, a.bottom + 7);
        c.stroke();
      });
      c.restore();
    }
  };

  new Chart(canvas, {
    type: 'bar',
    data: {
      labels: ['O3'],
      datasets: o3Colors.map((color, i) => ({
        data: [[o3Edges[i], o3Edges[i + 1]]],
        backgroundColor: color,
        borderWidth: 0,
        grouped: false,
        barPercentage: 1,
        categoryPercentage: 1
      }))
    },
    plugins: [frameBar],
    options: {
      indexAxis: 'y',
      responsive: false,
      animation: false,
      events: [],
      layout: { padding: { left: 211.7, top: 13, right: 181, bottom: 0 } },
      plugins: { legend: { display: false }, tooltip: { enabled: false } },
      scales: {
        y: { display: false },
        x: {
          type: 'linear',
          min: 0,
          max: 160,
          afterBuildTicks: s => { s.ticks = o3Ticks.map(v => ({ value: v })); },
          afterFit: s => { s.height = 81.3; },
          border: { display: false },
          grid: { drawOnChartArea: false, tickLength: 15, tickWidth: 1.6, tickColor: c => (o3TickLabels[c.index] === '' ? 'transparent' : '#222') },
          ticks: { autoSkip: false, maxRotation: 0, padding: 7, color: '#111', font: { family: fontName, size: 19.5 }, callback: (v, i) => o3TickLabels[i] },
          title: { display: true, text: 'O₃ (ppbv)', color: '#111', padding: { top: 0, bottom: 0 }, font: { family: fontName, size: 24 } }
        }
      }
    }
  });
}

makePanel(frames[0], titleA, aircraftA, lidarAltA, lidarO3A, sondeA, dashA, siteO3A, labelsA, arrowsA);
makePanel(frames[1], titleB, aircraftB, lidarAltB, lidarO3B, null, dashB, siteO3B, labelsB, arrowsB);
makePanel(frames[2], titleC, aircraftC, lidarAltC, lidarO3C, sondeC, dashC, siteO3C, labelsC, arrowsC);
makePanel(frames[3], titleD, aircraftD, lidarAltD, lidarO3D, null, dashD, siteO3D, labelsD, arrowsD);
makePanel(frames[4], titleE, aircraftE, lidarAltE, lidarO3E, sondeE, dashE, siteO3E, labelsE, arrowsE);
makePanel(frames[5], titleF, aircraftF, lidarAltF, lidarO3F, null, dashF, siteO3F, labelsF, arrowsF);
makePanel(frames[6], titleG, aircraftG, lidarAltG, lidarO3G, sondeG, dashG, siteO3G, labelsG, arrowsG);
makePanel(frames[7], titleH, aircraftH, lidarAltH, lidarO3H, null, dashH, siteO3H, labelsH, arrowsH);
makeColorBar();
</script>
</body>
</html>
